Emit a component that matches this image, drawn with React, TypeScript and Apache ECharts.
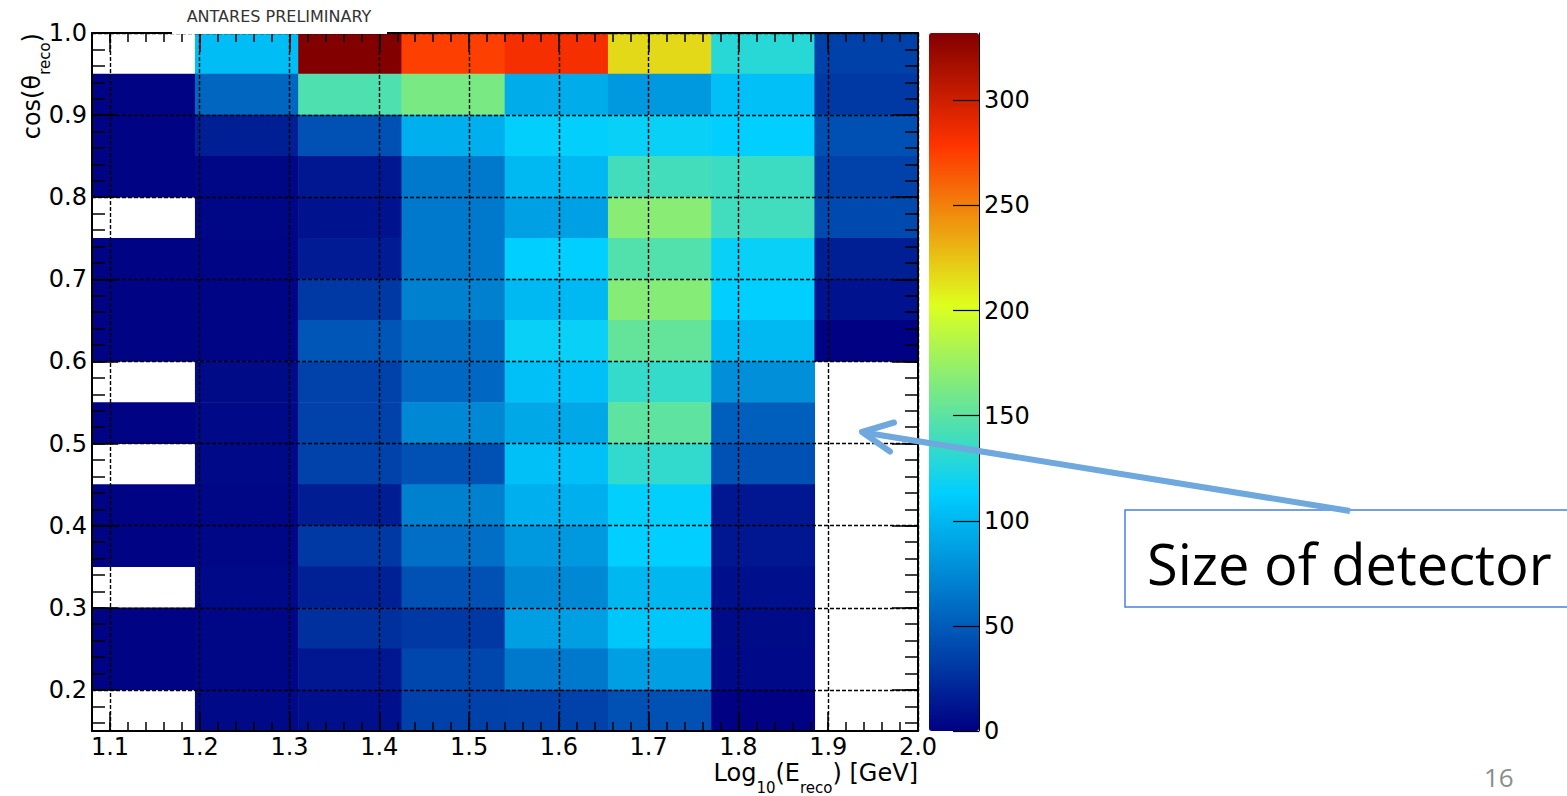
import React, { useEffect, useRef } from "react";
import * as echarts from "echarts";

// ---- data ----
const xBinEdges = [1.08, 1.195, 1.31, 1.425, 1.54, 1.655, 1.77, 1.885, 2.0];
const yBinEdges = [0.15, 0.2, 0.25, 0.3, 0.35, 0.4, 0.45, 0.5, 0.55, 0.6, 0.65, 0.7, 0.75, 0.8, 0.85, 0.9, 0.95, 1.0];
// rows listed from the top bin (0.95-1.00) down to the bottom bin (0.15-0.20); null = empty bin
const counts: (number | null)[][] = [
  [null, 104, 332, 274, 283, 217, 129, 35],
  [2, 56, 145, 162, 94, 83, 105, 31],
  [2, 17, 44, 96, 114, 116, 113, 43],
  [2, 4, 13, 66, 101, 140, 137, 36],
  [null, 4, 10, 66, 88, 168, 139, 40],
  [2, 3, 15, 66, 113, 146, 116, 17],
  [2, 3, 31, 70, 101, 167, 113, 10],
  [2, 3, 47, 61, 116, 153, 101, 1],
  [null, 6, 36, 57, 105, 134, 78, null],
  [2, 5, 36, 74, 92, 151, 52, null],
  [null, 5, 36, 44, 105, 133, 44, null],
  [2, 4, 16, 70, 96, 114, 13, null],
  [2, 4, 31, 61, 83, 113, 13, null],
  [null, 5, 18, 44, 74, 100, 9, null],
  [2, 4, 26, 31, 87, 109, 6, null],
  [2, 4, 13, 39, 66, 87, 5, null],
  [null, 5, 9, 35, 36, 44, 1, null],
];
const zMin = 0;
const zMax = 332;

const xMajorTicks = [1.1, 1.2, 1.3, 1.4, 1.5, 1.6, 1.7, 1.8, 1.9, 2.0];
const yMajorTicks = [0.2, 0.3, 0.4, 0.5, 0.6, 0.7, 0.8, 0.9, 1.0];
const zTicks = [0, 50, 100, 150, 200, 250, 300];
const xMinorTicks = Array.from({ length: 47 }, (_, i) => +(1.08 + 0.02 * i).toFixed(2));
const yMinorTicks = Array.from({ length: 43 }, (_, i) => +(0.16 + 0.02 * i).toFixed(2));

// ROOT "pretty" palette stops
const paletteStops = [0, 0.34, 0.61, 0.84, 1.0];
const paletteR = [0.0, 0.0, 0.87, 1.0, 0.51];
const paletteG = [0.0, 0.81, 1.0, 0.2, 0.0];
const paletteB = [0.51, 1.0, 0.12, 0.0, 0.0];

function paletteColor(t: number): string {
  let k = 0;
  while (k < paletteStops.length - 2 && t > paletteStops[k + 1]) k++;
  const f = (t - paletteStops[k]) / (paletteStops[k + 1] - paletteStops[k]);
  const c = (arr: number[]) => Math.round(255 * (arr[k] + (arr[k + 1] - arr[k]) * f));
  return `rgb(${c(paletteR)},${c(paletteG)},${c(paletteB)})`;
}
const paletteSamples = Array.from({ length: 101 }, (_, i) => paletteColor(i / 100));

const FONT = "DejaVu Sans";

const cellData: number[][] = [];
counts.forEach((row, r) => {
  const yi = yBinEdges.length - 2 - r;
  row.forEach((v, c) => {
    if (v == null) return;
    cellData.push([xBinEdges[c], xBinEdges[c + 1], yBinEdges[yi], yBinEdges[yi + 1], v]);
  });
});

const gridLineStyle = { color: "#000", width: 1.4, type: [4, 2] };

function xAxisCfg(position: "bottom" | "top", major: boolean, main: boolean): any {
  return {
    type: "value",
    gridIndex: 0,
    position,
    min: xBinEdges[0],
    max: xBinEdges[xBinEdges.length - 1],
    z: 5,
    axisLine: { show: major, onZero: false, lineStyle: { color: "#000", width: 2 } },
    axisTick: {
      show: true,
      inside: true,
      length: major ? 19 : 9,
      customValues: major ? xMajorTicks : xMinorTicks,
      lineStyle: { color: "#000", width: 1.5 },
    },
    axisLabel: main
      ? {
          show: true,
          customValues: xMajorTicks,
          formatter: (v: number) => v.toFixed(1),
          margin: 4,
          fontFamily: FONT,
          fontSize: 24,
          color: "#000",
        }
      : { show: false },
    splitLine: main ? { show: true, lineStyle: gridLineStyle } : { show: false },
  };
}

function yAxisCfg(position: "left" | "right", major: boolean, main: boolean): any {
  return {
    type: "value",
    gridIndex: 0,
    position,
    min: yBinEdges[0],
    max: yBinEdges[yBinEdges.length - 1],
    z: 5,
    axisLine: { show: major, onZero: false, lineStyle: { color: "#000", width: 2 } },
    axisTick: {
      show: true,
      inside: true,
      length: major ? 26 : 13,
      customValues: major ? yMajorTicks : yMinorTicks,
      lineStyle: { color: "#000", width: 1.5 },
    },
    axisLabel: main
      ? {
          show: true,
          customValues: yMajorTicks,
          formatter: (v: number) => v.toFixed(1),
          margin: 5,
          fontFamily: FONT,
          fontSize: 24,
          color: "#000",
        }
      : { show: false },
    splitLine: main ? { show: true, lineStyle: gridLineStyle } : { show: false },
  };
}

const xMain = {
  ...xAxisCfg("bottom", true, true),
  name: "Log{sub|10}(E{sub|reco}) [GeV]",
  nameLocation: "end",
  nameGap: 0,
  nameMoveOverlap: false,
  nameTextStyle: {
    fontFamily: FONT,
    fontSize: 24,
    color: "#000",
    align: "right",
    verticalAlign: "top",
    padding: [19, 0, 0, 0],
    rich: { sub: { fontFamily: FONT, fontSize: 15, color: "#000", verticalAlign: "bottom", lineHeight: 45 } },
  },
};

const yMain = {
  ...yAxisCfg("left", true, true),
  name: "cos(θ{sub|reco})",
  nameLocation: "end",
  nameRotate: 90,
  nameGap: 0,
  nameMoveOverlap: false,
  nameTextStyle: {
    fontFamily: FONT,
    fontSize: 24,
    color: "#000",
    align: "right",
    verticalAlign: "bottom",
    padding: [0, 0, 40, 0],
    rich: { sub: { fontFamily: FONT, fontSize: 15, color: "#000", verticalAlign: "bottom", lineHeight: 40 } },
  },
};

const option: any = {
  animation: false,
  backgroundColor: "#fff",
  grid: [
    { left: 92, top: 33, width: 826, height: 698, containLabel: false, outerBoundsMode: "none" },
    { left: 929, top: 33, width: 50, height: 698, containLabel: false, outerBoundsMode: "none" },
  ],
  xAxis: [
    xMain,
    xAxisCfg("bottom", false, false),
    xAxisCfg("top", true, false),
    xAxisCfg("top", false, false),
    { type: "value", gridIndex: 1, show: false, min: 0, max: 1 },
  ],
  yAxis: [
    yMain,
    yAxisCfg("left", false, false),
    yAxisCfg("right", true, false),
    yAxisCfg("right", false, false),
    {
      type: "value",
      gridIndex: 1,
      position: "right",
      min: zMin,
      max: zMax,
      z: 5,
      axisLine: { show: true, onZero: false, lineStyle: { color: "#000", width: 1 } },
      axisTick: { show: true, inside: true, length: 26, customValues: zTicks, lineStyle: { color: "#000", width: 1.2 } },
      axisLabel: { show: true, customValues: zTicks, margin: 5, fontFamily: FONT, fontSize: 24, color: "#000" },
      splitLine: { show: false },
    },
  ],
  visualMap: {
    type: "continuous",
    seriesIndex: 0,
    dimension: 4,
    min: zMin,
    max: zMax,
    calculable: false,
    hoverLink: false,
    orient: "vertical",
    left: 929,
    top: 33,
    itemWidth: 50,
    itemHeight: 698,
    padding: 0,
    inRange: { color: paletteSamples },
  },
  series: [
    {
      type: "custom",
      coordinateSystem: "cartesian2d",
      xAxisIndex: 0,
      yAxisIndex: 0,
      silent: true,
      dimensions: ["x0", "x1", "y0", "y1", "count"],
      encode: { x: [0, 1], y: [2, 3], tooltip: 4 },
      data: cellData,
      renderItem: (params: any, api: any) => {
        const tl = api.coord([api.value(0), api.value(3)]);
        const br = api.coord([api.value(1), api.value(2)]);
        return {
          type: "rect",
          shape: { x: tl[0] - 0.3, y: tl[1] - 0.3, width: br[0] - tl[0] + 0.6, height: br[1] - tl[1] + 0.6 },
          style: { fill: api.visual("color"), stroke: null },
        };
      },
    },
  ],
  graphic: [
    { type: "rect", z: 50, shape: { x: 172, y: 0, width: 215, height: 34 }, style: { fill: "#fff" } },
    {
      type: "text",
      z: 51,
      x: 279,
      y: 16,
      style: { text: "ANTARES PRELIMINARY", fontFamily: FONT, fontSize: 16, fill: "#333", align: "center", verticalAlign: "middle" },
    },
    {
      type: "rect",
      z: 50,
      shape: { x: 1125, y: 510, width: 470, height: 97 },
      style: { fill: "#fff", stroke: "#4a80e4", lineWidth: 1.5 },
    },
    {
      type: "text",
      z: 51,
      x: 1147,
      y: 563,
      style: { text: "Size of detector", fontFamily: "Open Sans", fontSize: 56, fill: "#000", align: "left", verticalAlign: "middle" },
    },
    {
      type: "line",
      z: 52,
      shape: { x1: 1350, y1: 511, x2: 864, y2: 432.5 },
      style: { stroke: "#6fa8dc", lineWidth: 6, lineCap: "butt" },
    },
    {
      type: "polyline",
      z: 52,
      shape: { points: [[894, 422.5], [862, 432], [890, 451.5]] },
      style: { stroke: "#6fa8dc", lineWidth: 6, lineCap: "round", lineJoin: "round", fill: null },
    },
    {
      type: "text",
      z: 51,
      x: 1484,
      y: 777,
      style: { text: "16", fontFamily: "Open Sans", fontSize: 26, fill: "#8c8c8c", align: "left", verticalAlign: "middle" },
    },
  ],
};

export default function App() {
  const ref = useRef<HTMLDivElement>(null);
  useEffect(() => {
    if (!ref.current) return;
    const chart = echarts.init(ref.current, undefined, { renderer: "svg" });
    chart.setOption(option);
    return () => chart.dispose();
  }, []);
  return <div ref={ref} style={{ position: "fixed", left: 0, top: 0, width: 1567, height: 796, background: "#fff" }} />;
}
